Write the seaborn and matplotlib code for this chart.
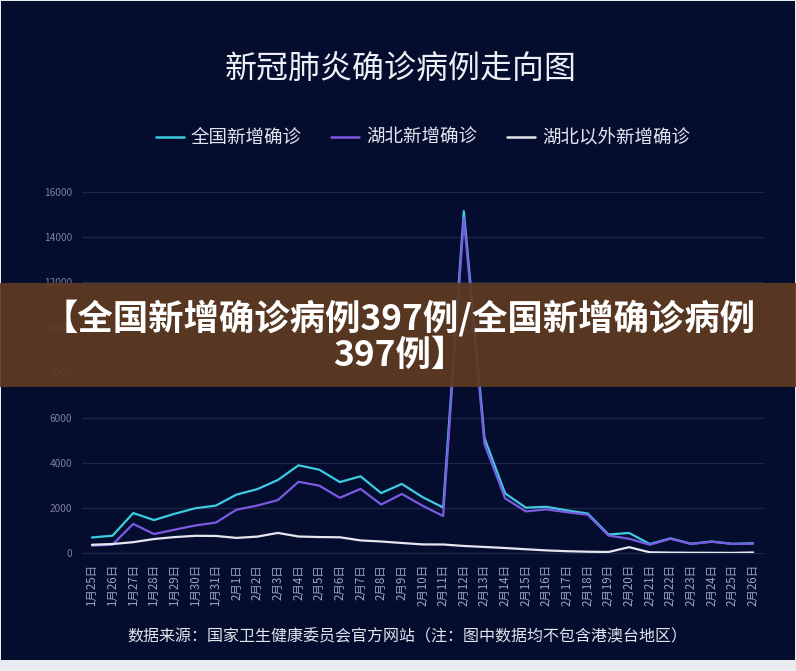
import seaborn as sns
import matplotlib.pyplot as plt
import pandas as pd
from matplotlib.patches import Rectangle

dates = ['1月25日', '1月26日', '1月27日', '1月28日', '1月29日', '1月30日', '1月31日',
         '2月1日', '2月2日', '2月3日', '2月4日', '2月5日', '2月6日', '2月7日', '2月8日',
         '2月9日', '2月10日', '2月11日', '2月12日', '2月13日', '2月14日', '2月15日',
         '2月16日', '2月17日', '2月18日', '2月19日', '2月20日', '2月21日', '2月22日',
         '2月23日', '2月24日', '2月25日', '2月26日']
national = [688, 769, 1771, 1459, 1737, 1982, 2102, 2590, 2829, 3235, 3887, 3694, 3143,
            3399, 2656, 3062, 2478, 2015, 15152, 5090, 2641, 2009, 2048, 1886, 1749, 820,
            889, 397, 648, 409, 508, 406, 433]
hubei = [323, 371, 1291, 840, 1032, 1220, 1347, 1921, 2103, 2345, 3156, 2987, 2447,
         2841, 2147, 2618, 2097, 1638, 14840, 4823, 2420, 1843, 1933, 1807, 1693, 775,
         631, 366, 630, 398, 499, 401, 409]
outside = [365, 398, 480, 619, 705, 762, 755, 669, 726, 890, 731, 707, 696, 558, 509,
           444, 381, 377, 312, 267, 221, 166, 115, 79, 56, 45, 258, 31, 18, 11, 9, 5, 24]
series_names = ['全国新增确诊', '湖北新增确诊', '湖北以外新增确诊']
colors = ['#3ccbe0', '#7b5ae2', '#e6e6ee']
yticks = [0, 2000, 4000, 6000, 8000, 10000, 12000, 14000, 16000]

df = pd.DataFrame({'idx': list(range(len(dates))) * 3,
                   'value': national + hubei + outside,
                   'series': [s for s in series_names for _ in dates]})

sns.set_style('white')
plt.rcParams['font.family'] = ['Noto Sans CJK SC', 'DejaVu Sans']

bg = '#050d2e'
fig = plt.figure(figsize=(7.96, 6.71), dpi=100)
fig.patch.set_facecolor('#e9ebf0')
fig.add_artist(Rectangle((1 / 796, 11 / 671), 794 / 796, 659 / 671,
                         transform=fig.transFigure, facecolor=bg, edgecolor='none', zorder=-10))

ax = fig.add_axes([82 / 796, 1 - 553 / 671, 681 / 796, 361 / 671])
ax.set_facecolor(bg)
ax.patch.set_alpha(0)
sns.lineplot(data=df, x='idx', y='value', hue='series', hue_order=series_names,
             palette=colors, linewidth=1.6, ax=ax, legend=False)

ax.set_xlim(-0.48, len(dates) - 1 + 0.48)
ax.set_ylim(0, 16000)
ax.set_yticks(yticks)
ax.set_yticklabels([str(v) for v in yticks])
ax.set_xticks(range(len(dates)))
ax.set_xticklabels(dates, rotation=90)
ax.tick_params(axis='x', length=0, pad=8, labelsize=8.3, labelcolor='#9ea3bb')
ax.tick_params(axis='y', length=0, pad=7, labelsize=7.3, labelcolor='#7d8299')
for v in yticks:
    ax.axhline(v, color='#1d2647', lw=0.9, zorder=0, clip_on=False)
for s in ax.spines.values():
    s.set_visible(False)
ax.set_xlabel('')
ax.set_ylabel('')

handles = [plt.Line2D([], [], color=c, lw=1.8) for c in colors]
fig.legend(handles, series_names, loc='center', bbox_to_anchor=(423 / 796, 1 - 138 / 671),
           ncol=3, frameon=False, fontsize=13.3, labelcolor='#e4e6f0',
           handlelength=1.5, handletextpad=0.4, columnspacing=1.6)

fig.text(0.503, 1 - 69 / 671, '新冠肺炎确诊病例走向图', ha='center', va='center',
         fontsize=23, color='#eef0f6')
fig.text(407 / 796, 1 - 637 / 671, '数据来源：国家卫生健康委员会官方网站（注：图中数据均不包含港澳台地区）',
         ha='center', va='center', fontsize=11.5, color='#e2e4ee')

# brown banner on top
fig.add_artist(Rectangle((0, 1 - 387 / 671), 1, 104 / 671, transform=fig.transFigure,
                         facecolor='#5e3a22', alpha=0.93, edgecolor='none', zorder=20))
fig.text(0.502, 1 - 318 / 671, '【全国新增确诊病例397例/全国新增确诊病例', ha='center',
         va='center', fontsize=25.5, fontweight='heavy', color='white', zorder=21)
fig.text(0.502, 1 - 355 / 671, '397例】', ha='center', va='center', fontsize=25.5,
         fontweight='heavy', color='white', zorder=21)

fig.savefig('out.png', dpi=100, facecolor=fig.get_facecolor())
